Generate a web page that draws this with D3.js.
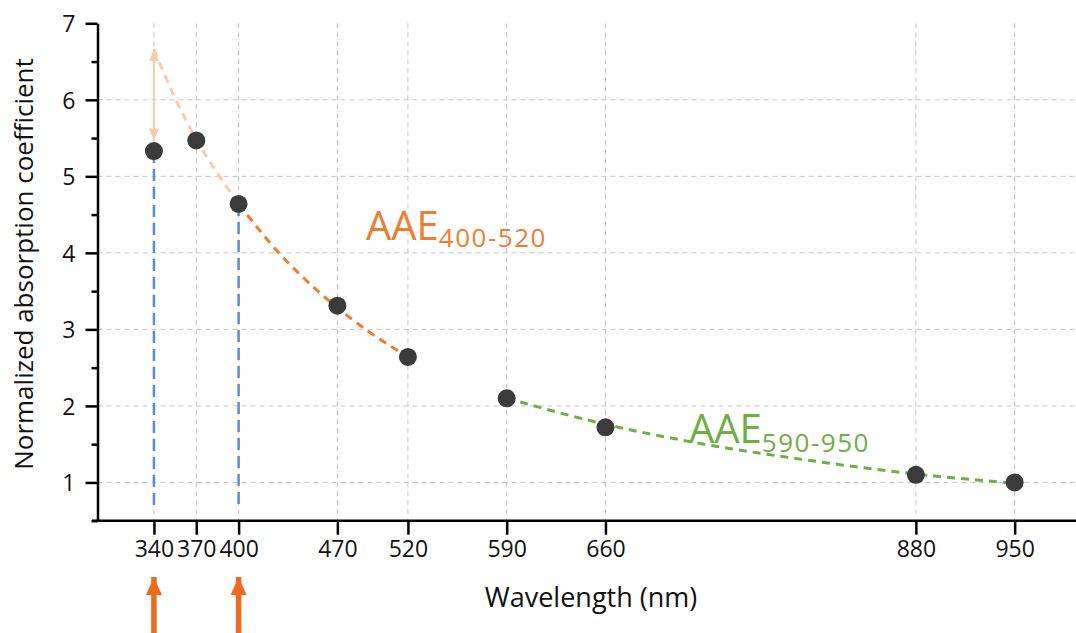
<!DOCTYPE html>
<html>
<head>
<meta charset="utf-8">
<script src="https://cdn.jsdelivr.net/npm/d3@7"></script>
<style>
    body { margin: 0; background: #fff; }
    svg { display: block; font-family: "Open Sans", sans-serif; }
</style>
</head>
<body>
<div id="chart"><svg></svg></div>
<script>
/*
    Normalized absorption coefficient vs wavelength, with AAE fits
 */

const config = {
    width: 1076,
    height: 633,
    left: 97.5,
    top: 23.3,
    bottom: 520.7
};

// measured points
const wavelengths = [340, 370, 400, 470, 520, 590, 660, 880, 950];
const coefficients = [5.33, 5.47, 4.64, 3.31, 2.64, 2.10, 1.72, 1.10, 1.00];

// fit curves
const fitShortWl = [400, 430, 460, 490, 520];
const fitShortVal = [4.64, 3.97, 3.44, 3.00, 2.64];
const extendWl = [340, 355, 370, 385, 400];
const extendVal = [6.66, 6.02, 5.48, 5.04, 4.64];
const fitLongWl = [590, 660, 730, 800, 880, 950];
const fitLongVal = [2.10, 1.76, 1.50, 1.30, 1.11, 0.99];

// blue guides drop from these points to near the axis, arrows below axis
const markedWl = [340, 400];
const guideBottom = 0.64;
// double arrow: extrapolated value vs measured value at 340
const gapTop = 6.66;
const gapBottom = 5.47;

const yTicks = [1, 2, 3, 4, 5, 6, 7];
const yMinor = [0.5, 1.5, 2.5, 3.5, 4.5, 5.5, 6.5];

const colors = {
    dot: "#3b3b3b",
    orange: "#ed7d31",
    peach: "#f8cbad",
    green: "#70ad47",
    blue: "#5b8bd8",
    arrow: "#ef6a1c",
    grid: "#c4c4c4",
    text: "#111"
};

const x = d3.scaleLinear().domain([300, 1000]).range([config.left, config.left + 700 * 1.411]);
const y = d3.scaleLinear().domain([0.5, 7]).range([config.bottom, config.top]);

const svg = d3.select("#chart svg")
    .attr("width", config.width)
    .attr("height", config.height);

const defs = svg.append("defs");
function marker (id, color, w, h) {
    defs.append("marker")
        .attr("id", id)
        .attr("viewBox", `0 0 ${h} ${w}`)
        .attr("refX", h).attr("refY", w / 2)
        .attr("markerWidth", h).attr("markerHeight", w)
        .attr("markerUnits", "userSpaceOnUse")
        .attr("orient", "auto-start-reverse")
        .append("path")
        .attr("d", `M0,0L${h},${w / 2}L0,${w}Z`)
        .attr("fill", color);
}
marker("peachHead", colors.peach, 10, 12);
marker("orangeHead", colors.arrow, 16, 18);

// grid
svg.append("g")
    .selectAll("line")
    .data(yTicks.filter(d => d < 7))
    .join("line")
    .attr("x1", config.left).attr("x2", config.width)
    .attr("y1", d => y(d)).attr("y2", d => y(d))
    .attr("stroke", colors.grid).attr("stroke-dasharray", "5,4");

svg.append("g")
    .selectAll("line")
    .data(wavelengths)
    .join("line")
    .attr("x1", d => x(d)).attr("x2", d => x(d))
    .attr("y1", y(7)).attr("y2", config.bottom)
    .attr("stroke", colors.grid).attr("stroke-dasharray", "5,4");

// axes
const xAxis = d3.axisBottom(x).tickValues(wavelengths).tickSize(14).tickPadding(6).tickSizeOuter(0);
const yAxis = d3.axisLeft(y).tickValues(yTicks).tickFormat(d3.format("d")).tickSize(12).tickPadding(10).tickSizeOuter(0);
const yAxisMinor = d3.axisLeft(y).tickValues(yMinor).tickSize(6).tickFormat("").tickSizeOuter(0);

svg.append("g")
    .attr("class", "y-minor")
    .attr("transform", `translate(${config.left}, 0)`)
    .call(yAxisMinor)
    .call(g => g.select(".domain").remove());

svg.append("g")
    .attr("class", "x-axis")
    .attr("transform", `translate(0, ${config.bottom})`)
    .call(xAxis)
    .call(g => g.select(".domain").attr("d", `M92,0H${config.width}`));

svg.append("g")
    .attr("class", "y-axis")
    .attr("transform", `translate(${config.left}, 0)`)
    .call(yAxis);

svg.selectAll(".x-axis, .y-axis, .y-minor").selectAll("path, line")
    .attr("stroke", "#000").attr("stroke-width", 2.5);
svg.selectAll(".x-axis text, .y-axis text")
    .attr("font-size", 23).attr("font-family", "Open Sans").attr("fill", colors.text);
svg.selectAll(".y-axis text").attr("dy", "0.36em");

// axis titles
svg.append("text")
    .attr("x", 591).attr("y", 607)
    .attr("text-anchor", "middle")
    .attr("font-size", 27).attr("fill", colors.text)
    .text("Wavelength (nm)");

svg.append("text")
    .attr("transform", "translate(33, 264) rotate(-90)")
    .attr("text-anchor", "middle")
    .attr("font-size", 26).attr("fill", colors.text)
    .text("Normalized absorption coefficient");

// blue guides
svg.append("g")
    .selectAll("line")
    .data(markedWl)
    .join("line")
    .attr("x1", d => x(d)).attr("x2", d => x(d))
    .attr("y1", d => y(coefficients[wavelengths.indexOf(d)]))
    .attr("y2", y(guideBottom))
    .attr("stroke", colors.blue).attr("stroke-width", 2.5)
    .attr("stroke-dasharray", "12,6");

// fit curves
const line = d3.line().x(d => x(d[0])).y(d => y(d[1])).curve(d3.curveMonotoneX);

svg.append("path")
    .datum(d3.zip(extendWl, extendVal))
    .attr("d", line)
    .attr("fill", "none").attr("stroke", colors.peach)
    .attr("stroke-width", 3).attr("stroke-dasharray", "8,6");

svg.append("path")
    .datum(d3.zip(fitShortWl, fitShortVal))
    .attr("d", line)
    .attr("fill", "none").attr("stroke", colors.orange)
    .attr("stroke-width", 3).attr("stroke-dasharray", "8,6");

svg.append("path")
    .datum(d3.zip(fitLongWl, fitLongVal))
    .attr("d", line)
    .attr("fill", "none").attr("stroke", colors.green)
    .attr("stroke-width", 3).attr("stroke-dasharray", "8,6");

// double arrow at 340
svg.append("line")
    .attr("x1", x(340)).attr("x2", x(340))
    .attr("y1", y(gapBottom)).attr("y2", y(gapTop))
    .attr("stroke", colors.peach).attr("stroke-width", 2)
    .attr("marker-start", "url(#peachHead)")
    .attr("marker-end", "url(#peachHead)");

// points
svg.append("g")
    .selectAll("circle")
    .data(d3.zip(wavelengths, coefficients))
    .join("circle")
    .attr("cx", d => x(d[0]))
    .attr("cy", d => y(d[1]))
    .attr("r", 9)
    .attr("fill", colors.dot);

// AAE labels
function aae (xPos, yPos, sub, color, dy) {
    const t = svg.append("text")
        .attr("x", xPos).attr("y", yPos)
        .attr("fill", color).attr("font-size", 40);
    t.append("tspan").text("AAE");
    t.append("tspan").attr("font-size", 26).attr("dy", dy)
        .attr("letter-spacing", 1.5).text(sub);
}
aae(366, 240, "400-520", colors.orange, 7);
aae(689, 443, "590-950", colors.green, 9);

// orange arrows below axis
svg.append("g")
    .selectAll("line")
    .data(markedWl)
    .join("line")
    .attr("x1", d => x(d)).attr("x2", d => x(d))
    .attr("y1", config.height).attr("y2", 577)
    .attr("stroke", colors.arrow).attr("stroke-width", 5.5)
    .attr("marker-end", "url(#orangeHead)");
</script>
</body>
</html>
